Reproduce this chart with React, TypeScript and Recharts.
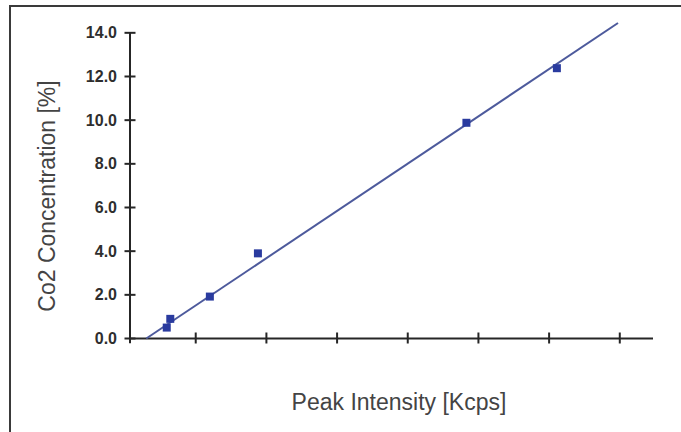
import { ReferenceLine, Scatter, ScatterChart, XAxis, YAxis } from "recharts";

// measured points (Peak Intensity vs CO2 %)
const intensity = [0.59, 0.64, 1.2, 1.88, 4.83, 6.11];
const co2 = [0.5, 0.9, 1.92, 3.9, 9.88, 12.38];

// calibration fit line end points
const fitIntensity = [0.3, 6.975];
const fitCo2 = [0, 14.45];

const xTicks = [1, 2, 3, 4, 5, 6, 7];
const yTicks = [0, 2, 4, 6, 8, 10, 12, 14];

const points = intensity.map((x, i) => ({ x, y: co2[i] }));
const fit = fitIntensity.map((x, i) => ({ x, y: fitCo2[i] }));

const X_MIN = 0.07;
const AXIS = "#262626";
const FONT = "'Liberation Sans', Arial, sans-serif";

function YTick(props: any) {
  const { x, y, payload } = props;
  return (
    <g>
      <line x1={x - 5.5} x2={x + 5.5} y1={y} y2={y} stroke={AXIS} strokeWidth={2} />
      <text x={x - 13} y={y} dy={5.5} textAnchor="end" fontFamily={FONT} fontSize={16} fontWeight="bold" fill="#2e2e2e">
        {Number(payload.value).toFixed(1)}
      </text>
    </g>
  );
}

function XTick(props: any) {
  const { x, y } = props;
  return <line x1={x} x2={x} y1={y - 6} y2={y + 5} stroke={AXIS} strokeWidth={2} />;
}

function Square(props: any) {
  const { cx, cy } = props;
  if (cx == null || cy == null) return null;
  return <rect x={cx - 4} y={cy - 4} width={8} height={8} fill="#2a3b9f" />;
}

export default function App() {
  return (
    <div style={{ position: "absolute", left: 0, top: 0, width: 681, height: 432, background: "#fff", overflow: "hidden" }}>
      <div
        style={{
          position: "absolute", left: 9, top: 5, width: 700, height: 440,
          borderTop: "2px solid #3a3a3a", borderLeft: "2px solid #3a3a3a",
        }}
      />
      <ScatterChart width={681} height={432} margin={{ top: 23, right: 28, bottom: 73.5, left: 90 }} style={{ position: "absolute", left: 0, top: 0 }}>
        <XAxis
          dataKey="x" type="number" domain={[X_MIN, 7.47]} ticks={xTicks}
          interval={0}
          tick={<XTick />} tickLine={false} tickSize={0} tickMargin={0}
          axisLine={{ stroke: AXIS, strokeWidth: 2 }} height={20}
        />
        <YAxis
          dataKey="y" type="number" domain={[0, 14.45]} ticks={yTicks}
          interval={0}
          tick={<YTick />} tickLine={false} tickSize={0} tickMargin={0}
          axisLine={false} width={40}
        />
        <ReferenceLine
          segment={[{ x: X_MIN, y: -0.22 }, { x: X_MIN, y: 14 }]}
          stroke={AXIS} strokeWidth={2} ifOverflow="visible"
        />
        <Scatter data={fit} line={{ stroke: "#4d5a9c", strokeWidth: 2 }} shape={() => null} isAnimationActive={false} />
        <Scatter data={points} shape={<Square />} isAnimationActive={false} />
      </ScatterChart>
      <div
        style={{
          position: "absolute", left: 399, top: 402, transform: "translate(-50%, -50%)",
          fontFamily: FONT, fontSize: 23, color: "#444", whiteSpace: "nowrap",
        }}
      >
        Peak Intensity [Kcps]
      </div>
      <div
        style={{
          position: "absolute", left: 47, top: 196, transform: "translate(-50%, -50%) rotate(-90deg)",
          fontFamily: FONT, fontSize: 23, color: "#444", whiteSpace: "nowrap",
        }}
      >
        Co2 Concentration [%]
      </div>
    </div>
  );
}
